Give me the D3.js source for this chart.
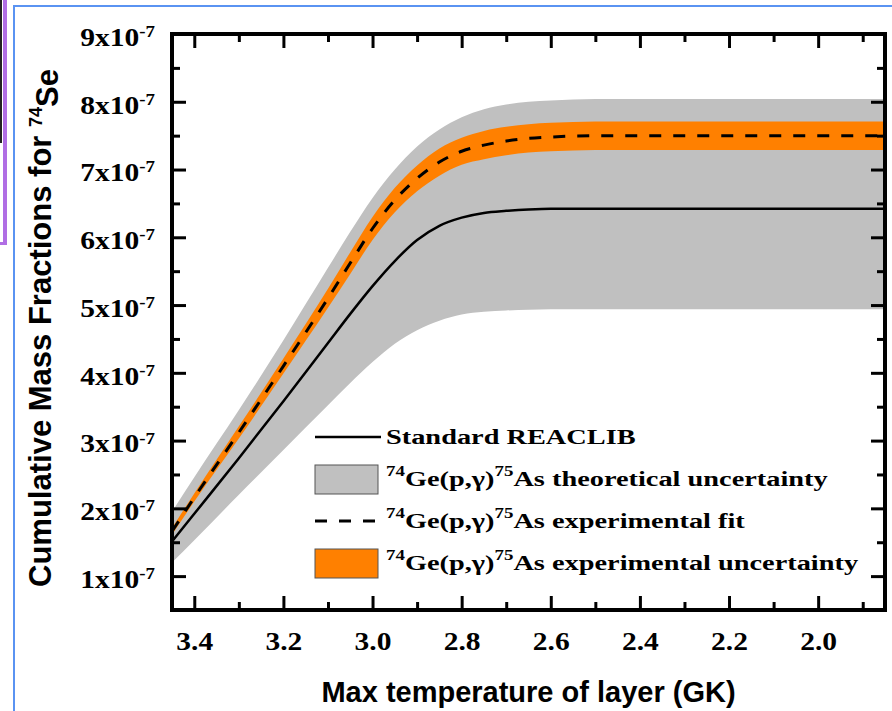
<!DOCTYPE html>
<html>
<head>
<meta charset="utf-8">
<script src="https://cdn.jsdelivr.net/npm/d3@7"></script>
<style>
  body { margin: 0; background: #fff; }
  svg text { fill: #000; }
</style>
</head>
<body>
<div id="chart"></div>
<script>
// Max temperature of layer (GK), high to low
const temps     = [3.45, 3.4, 3.3, 3.2, 3.1, 3.05, 3.0, 2.95, 2.9, 2.85, 2.8, 2.75, 2.7, 2.65, 2.6, 2.5, 2.4, 2.2, 2.0, 1.85];
// cumulative mass fractions, in units of 1e-7
const standard  = [1.51, 1.92, 2.74, 3.58, 4.44, 4.87, 5.28, 5.65, 5.96, 6.17, 6.29, 6.36, 6.39, 6.41, 6.42, 6.42, 6.42, 6.42, 6.42, 6.42];
const expFit    = [1.66, 2.16, 3.12, 4.10, 5.10, 5.62, 6.13, 6.55, 6.87, 7.11, 7.27, 7.36, 7.42, 7.46, 7.48, 7.50, 7.50, 7.50, 7.50, 7.50];
const expLow    = [1.61, 2.10, 3.03, 3.99, 4.96, 5.46, 5.96, 6.37, 6.68, 6.91, 7.07, 7.15, 7.21, 7.25, 7.27, 7.29, 7.29, 7.29, 7.29, 7.29];
const expHigh   = [1.71, 2.22, 3.21, 4.21, 5.24, 5.78, 6.30, 6.73, 7.06, 7.31, 7.47, 7.57, 7.63, 7.67, 7.69, 7.71, 7.71, 7.71, 7.71, 7.71];
const theoLow   = [1.20, 1.53, 2.20, 2.86, 3.52, 3.85, 4.16, 4.43, 4.63, 4.77, 4.86, 4.90, 4.92, 4.93, 4.94, 4.94, 4.94, 4.94, 4.94, 4.94];
const theoHigh  = [1.95, 2.46, 3.45, 4.48, 5.55, 6.08, 6.58, 7.00, 7.34, 7.59, 7.77, 7.89, 7.96, 8.00, 8.02, 8.04, 8.04, 8.04, 8.04, 8.04];

const xMajor = [3.4, 3.2, 3.0, 2.8, 2.6, 2.4, 2.2, 2.0];
const xMinor = [3.3, 3.1, 2.9, 2.7, 2.5, 2.3, 2.1, 1.9];
const yMajor = [1, 2, 3, 4, 5, 6, 7, 8, 9];
const yMinor = [1.5, 2.5, 3.5, 4.5, 5.5, 6.5, 7.5, 8.5];

// legend entries: pieces of text, superscripts flagged
const legendItems = [
  {type: "line", parts: [["Standard REACLIB"]]},
  {type: "gray", parts: [["74", 1], ["Ge(p,\u03b3)"], ["75", 1], ["As theoretical uncertainty"]]},
  {type: "dash", parts: [["74", 1], ["Ge(p,\u03b3)"], ["75", 1], ["As experimental fit"]]},
  {type: "orange", parts: [["74", 1], ["Ge(p,\u03b3)"], ["75", 1], ["As experimental uncertainty"]]}
];

const GRAY = "#c0c0c0", ORANGE = "#ff8000";
const SERIF = "'Liberation Serif', 'Times New Roman', serif";
const SANS = "'Liberation Sans', Arial, sans-serif";

const totalW = 892, totalH = 711;
const margin = {top: 34, right: 7, bottom: 101, left: 172},
      width = totalW - margin.left - margin.right,
      height = totalH - margin.top - margin.bottom;

const svg = d3.select("#chart").append("svg")
    .attr("width", totalW)
    .attr("height", totalH);

// screenshot leftovers round the figure
svg.append("rect").attr("x", 0).attr("y", 0).attr("width", 2).attr("height", 143).attr("fill", "#222");
svg.append("rect").attr("x", 3).attr("y", 0).attr("width", 4).attr("height", 245).attr("fill", "#b06ee4");
svg.append("rect").attr("x", 0).attr("y", 242).attr("width", 7).attr("height", 3).attr("fill", "#b06ee4");
svg.append("path").attr("d", `M14,${totalH} V6 H${totalW}`)
    .attr("fill", "none").attr("stroke", "#5a93f2").attr("stroke-width", 2);

const g = svg.append("g")
    .attr("transform", `translate(${margin.left},${margin.top})`);

const x = d3.scaleLinear().domain([3.45, 1.85]).range([0, width]);
const y = d3.scaleLinear().domain([0.5, 9]).range([height, 0]);

g.append("clipPath").attr("id", "clip")
  .append("rect").attr("width", width).attr("height", height);

const idx = temps.map((t, i) => i);
const band = (lo, hi) => d3.area()
    .x(i => x(temps[i]))
    .y0(i => y(lo[i]))
    .y1(i => y(hi[i]))
    .curve(d3.curveMonotoneX);
const line = vals => d3.line()
    .x(i => x(temps[i]))
    .y(i => y(vals[i]))
    .curve(d3.curveMonotoneX);

const plot = g.append("g").attr("clip-path", "url(#clip)");

plot.append("path").datum(idx)
    .attr("d", band(theoLow, theoHigh))
    .attr("fill", GRAY);

plot.append("path").datum(idx)
    .attr("d", band(expLow, expHigh))
    .attr("fill", ORANGE);

plot.append("path").datum(idx)
    .attr("d", line(standard))
    .attr("fill", "none")
    .attr("stroke", "#000")
    .attr("stroke-width", 2.5);

plot.append("path").datum(idx)
    .attr("d", line(expFit))
    .attr("fill", "none")
    .attr("stroke", "#000")
    .attr("stroke-width", 3)
    .attr("stroke-dasharray", "12,12");

// ticks on all four sides, pointing inwards
function styleAxis(sel) {
  sel.select(".domain").remove();
  sel.selectAll(".tick line").attr("stroke", "#000").attr("stroke-width", 3);
}

const xBottom = g.append("g")
    .attr("transform", `translate(0,${height})`)
    .call(d3.axisBottom(x).tickValues(xMajor).tickSizeInner(-14).tickSizeOuter(0)
          .tickPadding(22).tickFormat(d3.format(".1f")))
    .call(styleAxis);
xBottom.selectAll(".tick text")
    .attr("font-family", SERIF).attr("font-weight", "bold").attr("font-size", 25)
    .attr("transform", "scale(1.18,1)");

g.append("g")
    .attr("transform", `translate(0,${height})`)
    .call(d3.axisBottom(x).tickValues(xMinor).tickSizeInner(-8).tickSizeOuter(0).tickFormat(""))
    .call(styleAxis);

g.append("g")
    .call(d3.axisTop(x).tickValues(xMajor).tickSizeInner(-14).tickSizeOuter(0).tickFormat(""))
    .call(styleAxis);
g.append("g")
    .call(d3.axisTop(x).tickValues(xMinor).tickSizeInner(-8).tickSizeOuter(0).tickFormat(""))
    .call(styleAxis);

const yLeft = g.append("g")
    .call(d3.axisLeft(y).tickValues(yMajor).tickSizeInner(-14).tickSizeOuter(0).tickPadding(17))
    .call(styleAxis);
yLeft.selectAll(".tick text").each(function(d) {
  const t = d3.select(this).text(null)
      .attr("font-family", SERIF).attr("font-weight", "bold").attr("font-size", 25)
      .attr("x", -17 / 1.18).attr("dy", "0.45em")
      .attr("transform", "scale(1.18,1)");
  t.append("tspan").text(d + "x10");
  t.append("tspan").attr("dy", "-0.55em").attr("font-size", 16).text("-7");
});

g.append("g")
    .call(d3.axisLeft(y).tickValues(yMinor).tickSizeInner(-8).tickSizeOuter(0).tickFormat(""))
    .call(styleAxis);

g.append("g")
    .attr("transform", `translate(${width},0)`)
    .call(d3.axisRight(y).tickValues(yMajor).tickSizeInner(-14).tickSizeOuter(0).tickFormat(""))
    .call(styleAxis);
g.append("g")
    .attr("transform", `translate(${width},0)`)
    .call(d3.axisRight(y).tickValues(yMinor).tickSizeInner(-8).tickSizeOuter(0).tickFormat(""))
    .call(styleAxis);

// frame
g.append("rect")
    .attr("width", width).attr("height", height)
    .attr("fill", "none").attr("stroke", "#000").attr("stroke-width", 4);

// axis titles
g.append("text")
    .attr("x", width / 2)
    .attr("y", height + 92)
    .attr("text-anchor", "middle")
    .attr("font-family", SANS).attr("font-weight", "bold").attr("font-size", 29)
    .text("Max temperature of layer (GK)");

const yTitle = g.append("text")
    .attr("transform", `translate(${51 - margin.left},${328 - margin.top}) rotate(-90)`)
    .attr("text-anchor", "middle")
    .attr("font-family", SANS).attr("font-weight", "bold").attr("font-size", 31);
yTitle.append("tspan").text("Cumulative Mass Fractions for ");
yTitle.append("tspan").attr("dy", "-0.5em").attr("font-size", 18).text("74");
yTitle.append("tspan").attr("dy", "0.5em").text("Se");

// legend
const legend = g.selectAll(".legend")
    .data(legendItems)
    .enter().append("g")
    .attr("class", "legend")
    .attr("transform", (d, i) => `translate(${315 - margin.left},${437 - margin.top + i * 42})`);

legend.each(function(d) {
  const row = d3.select(this);
  if (d.type === "line" || d.type === "dash") {
    row.append("line")
        .attr("x1", 0).attr("x2", 66).attr("y1", 0).attr("y2", 0)
        .attr("stroke", "#000")
        .attr("stroke-width", d.type === "line" ? 2.5 : 3)
        .attr("stroke-dasharray", d.type === "dash" ? "12,12" : null);
  } else {
    row.append("rect")
        .attr("x", 0).attr("y", -14).attr("width", 63).attr("height", 29)
        .attr("fill", d.type === "gray" ? GRAY : ORANGE)
        .attr("stroke", "#555").attr("stroke-width", 1);
  }
  const t = row.append("text")
      .attr("transform", "translate(71,7) scale(1.35,1)")
      .attr("font-family", SERIF).attr("font-weight", "bold").attr("font-size", 21);
  let raised = false;
  d.parts.forEach(p => {
    const sp = t.append("tspan").text(p[0]);
    if (p[1]) {
      sp.attr("font-size", 14).attr("dy", raised ? null : "-0.75em");
      raised = true;
    } else {
      if (raised) sp.attr("dy", "0.5em");
      raised = false;
    }
  });
});
</script>
</body>
</html>
